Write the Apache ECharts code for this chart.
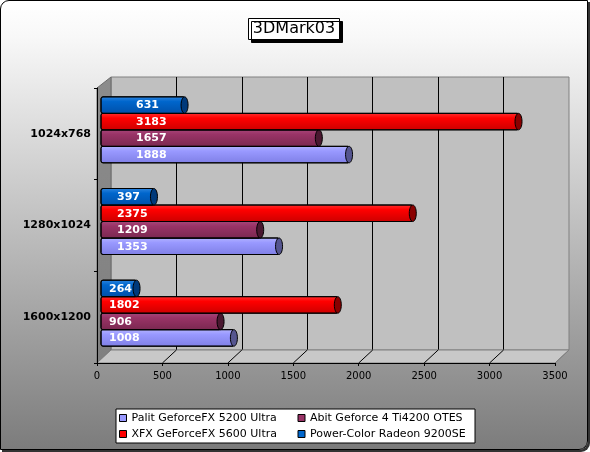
<!DOCTYPE html>
<html>
<head>
<meta charset="utf-8">
<script src="https://cdn.jsdelivr.net/npm/echarts@6/dist/echarts.min.js"></script>
<style>
  html, body { margin: 0; padding: 0; background: #fff; }
  #frame {
    position: absolute; left: 0; top: 0;
    width: 586px; height: 448px;
    border: 1px solid #000;
    border-radius: 9px 0 9px 0;
    box-shadow: 2px 2px 0 #333;
    overflow: hidden;
    background: linear-gradient(to bottom, #ffffff 0%, #f8f8f8 8%, #7c7c7c 100%);
  }
  #chart { width: 586px; height: 448px; }
</style>
</head>
<body>
<div id="frame"><div id="chart"></div></div>
<script>
const resolutions = ['1600x1200', '1280x1024', '1024x768'];
const cards = [
  'Palit GeforceFX 5200 Ultra',
  'Abit Geforce 4 Ti4200 OTES',
  'XFX GeForceFX 5600 Ultra',
  'Power-Color Radeon 9200SE'
];
const palit = [1008, 1353, 1888];
const abit = [906, 1209, 1657];
const xfx = [1802, 2375, 3183];
const powerColor = [264, 397, 631];
const xTicks = [0, 500, 1000, 1500, 2000, 2500, 3000, 3500];

const seriesValues = [palit, abit, xfx, powerColor];
const baseColors = ['#9999ff', '#993366', '#ff0000', '#0066cc'];
const topColors = ['#b4b4ff', '#a8467a', '#ff3030', '#2f86e0'];
const bottomColors = ['#7f7fe6', '#7a2850', '#cc0000', '#004fa8'];
const capColors = ['#55558f', '#4a1830', '#8a0000', '#00397a'];

const chart = echarts.init(document.getElementById('chart'));
const font = 'DejaVu Sans';

// depth shift of the bars relative to the front axis, and label inset per group
const barShift = 4;
const labelInset = [8, 16, 35];

function makeRender(si) {
  return function (params, api) {
    const val = api.value(0);
    const cat = api.value(1);
    const base = api.coord([0, cat]);
    const tip = api.coord([val, cat]);
    const band = api.size([0, 1])[1];
    const h = band * 0.18;
    const yc = base[1] - 4 + (1.5 - si) * h;
    const x0 = base[0] + barShift;
    const len = tip[0] - base[0];
    return {
      type: 'group',
      children: [
        {
          type: 'rect',
          shape: { x: x0, y: yc - h / 2, width: len, height: h, r: [2, 0, 0, 2] },
          style: {
            fill: {
              type: 'linear', x: 0, y: 0, x2: 0, y2: 1,
              colorStops: [
                { offset: 0, color: topColors[si] },
                { offset: 0.3, color: baseColors[si] },
                { offset: 1, color: bottomColors[si] }
              ]
            },
            stroke: '#000',
            lineWidth: 1
          }
        },
        {
          type: 'ellipse',
          shape: { cx: x0 + len + 1, cy: yc, rx: 3.5, ry: h / 2 },
          style: { fill: capColors[si], stroke: '#000', lineWidth: 1 }
        },
        {
          type: 'text',
          x: x0 + labelInset[cat],
          y: yc + 0.5,
          style: {
            text: String(val),
            fill: '#fff',
            font: 'bold 11px "' + font + '"',
            verticalAlign: 'middle',
            align: 'left'
          }
        }
      ]
    };
  };
}

const option = {
  animation: false,
  backgroundColor: 'transparent',
  title: {
    text: '3DMark03',
    left: 'center',
    top: 17,
    padding: [3, 5, 3, 5],
    backgroundColor: '#fff',
    borderColor: '#000',
    borderWidth: 1,
    shadowColor: '#000',
    shadowBlur: 0,
    shadowOffsetX: 3,
    shadowOffsetY: 3,
    textStyle: { fontFamily: font, fontSize: 16, fontWeight: 'normal', color: '#000' }
  },
  legend: {
    data: cards,
    left: 115,
    top: 408,
    width: 420,
    padding: 3,
    itemGap: 4,
    itemWidth: 7,
    itemHeight: 7,
    icon: 'rect',
    backgroundColor: '#fff',
    borderColor: '#000',
    borderWidth: 1,
    itemStyle: { borderColor: '#000', borderWidth: 1 },
    textStyle: { fontFamily: font, fontSize: 11, color: '#000', width: 162, lineHeight: 12 }
  },
  grid: [
    { left: 110, top: 76, width: 458, height: 273, show: true,
      backgroundColor: '#c0c0c0', borderColor: '#808080', borderWidth: 1 },
    { left: 96, top: 87, width: 458, height: 275 }
  ],
  xAxis: [
    {
      gridIndex: 0, type: 'value', min: 0, max: 3500, interval: 500,
      axisLine: { show: false }, axisTick: { show: false }, axisLabel: { show: false },
      splitLine: { show: true, showMinLine: false, showMaxLine: false, lineStyle: { color: '#000', width: 1 } }
    },
    {
      gridIndex: 1, type: 'value', min: 0, max: 3500, interval: 500, z: 3,
      axisLine: { show: true, lineStyle: { color: '#000', width: 1 } },
      axisTick: { show: true, length: 3, lineStyle: { color: '#000' } },
      axisLabel: { fontFamily: font, fontSize: 10, color: '#000', margin: 8, formatter: v => String(v) },
      splitLine: { show: false }
    }
  ],
  yAxis: [
    { gridIndex: 0, type: 'category', data: resolutions, show: false },
    {
      gridIndex: 1, type: 'category', data: resolutions, z: 3,
      axisLine: { show: true, lineStyle: { color: '#000', width: 1 } },
      axisTick: { show: true, length: 3, lineStyle: { color: '#000' } },
      axisLabel: { fontFamily: font, fontSize: 11, fontWeight: 'bold', color: '#000', margin: 6 }
    }
  ],
  series: seriesValues.map((vals, si) => ({
    type: 'custom',
    name: cards[si],
    xAxisIndex: 1,
    yAxisIndex: 1,
    z: 4,
    itemStyle: { color: baseColors[si] },
    encode: { x: 0, y: 1 },
    data: vals.map((v, ci) => [v, ci]),
    renderItem: makeRender(si)
  }))
};

chart.setOption(option);

// side wall and floor of the 3D box, placed from the axes' own pixel conversion
const fx = v => chart.convertToPixel({ xAxisIndex: 1 }, v);
const bx = v => chart.convertToPixel({ xAxisIndex: 0 }, v);
const frontTop = 87, frontBottom = 362, backTop = 76, backBottom = 349;
const walls = [
  {
    type: 'polygon',
    shape: { points: [[fx(0), frontTop], [bx(0), backTop], [bx(0), backBottom], [fx(0), frontBottom]] },
    style: {
      fill: { type: 'linear', x: 0, y: 0, x2: 0, y2: 1,
        colorStops: [{ offset: 0, color: '#8c8c8c' }, { offset: 1, color: '#808080' }] },
      stroke: '#6a6a6a', lineWidth: 1
    }
  },
  {
    type: 'polygon',
    shape: { points: [[fx(0), frontBottom], [bx(0), backBottom], [bx(3500), backBottom], [fx(3500), frontBottom]] },
    style: { fill: '#c8c8c8', stroke: '#808080', lineWidth: 1 }
  }
];
xTicks.slice(1).forEach((t, i) => {
  walls.push({
    type: 'line',
    shape: { x1: fx(t), y1: frontBottom, x2: bx(t), y2: backBottom },
    style: { stroke: i === xTicks.length - 2 ? '#808080' : '#000', lineWidth: 1 }
  });
});
chart.setOption({ graphic: { elements: walls } });
</script>
</body>
</html>
